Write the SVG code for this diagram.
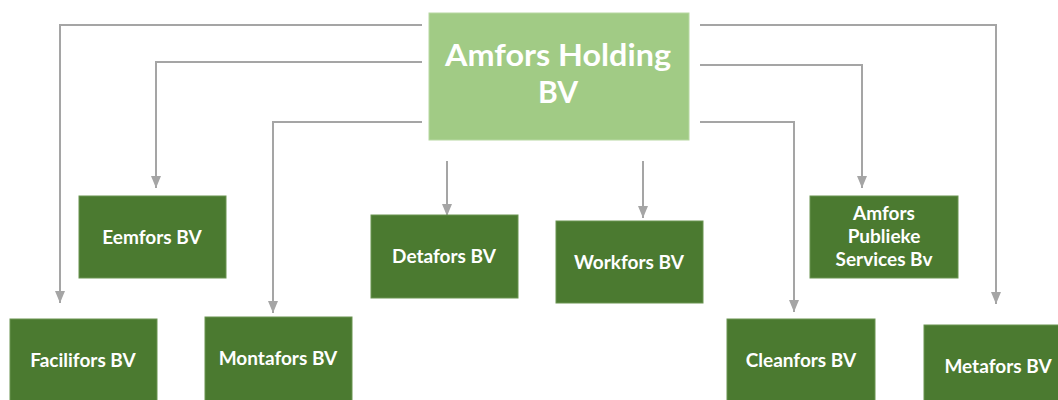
<svg xmlns="http://www.w3.org/2000/svg" width="1058" height="400" viewBox="0 0 1058 400">
<style>
.bg{fill:#ffffff}
.root rect{fill:#a1cb85;stroke:#b7d8a2;stroke-width:1}
.node rect{fill:#4b7a30;stroke:#6a9450;stroke-width:1}
text{font-family:Lato,"Liberation Sans",sans-serif;font-weight:bold;fill:#ffffff;text-anchor:middle}
.root text{font-size:30px}
.node text{font-size:19px}
.conn path{fill:none;stroke:#a5a5a5;stroke-width:2;marker-end:url(#arr)}
</style>
<defs>
<marker id="arr" markerUnits="userSpaceOnUse" markerWidth="12" markerHeight="12" viewBox="0 0 12 12" refX="12" refY="6" orient="auto">
<path d="M0,1 L12,6 L0,11 z" fill="#a5a5a5"/>
</marker>
</defs>
<rect class="bg" x="0" y="0" width="1058" height="400"/>
<g id="connectors" class="conn">
<path d="M422,25 H60 V303"/>
<path d="M422,62 H156 V188"/>
<path d="M422,122 H273 V313"/>
<path d="M447,161 V216"/>
<path d="M643,161 V218"/>
<path d="M700,65 H862 V188"/>
<path d="M700,122 H794 V312"/>
<path d="M700,25 H996 V304"/>
</g>
<g id="amfors-holding" class="root">
<rect x="429" y="13" width="260" height="127"/>
<text x="558" y="66" textLength="226" lengthAdjust="spacingAndGlyphs">Amfors Holding</text>
<text x="558" y="103">BV</text>
</g>
<g id="eemfors" class="node">
<rect x="79" y="196" width="147" height="82"/>
<text x="152" y="244">Eemfors BV</text>
</g>
<g id="detafors" class="node">
<rect x="371" y="215" width="147" height="83"/>
<text x="444" y="263">Detafors BV</text>
</g>
<g id="workfors" class="node">
<rect x="556" y="221" width="147" height="82"/>
<text x="629" y="269">Workfors BV</text>
</g>
<g id="amfors-publieke-services" class="node">
<rect x="810" y="196" width="148" height="82"/>
<text x="884" y="220">Amfors</text>
<text x="884" y="243">Publieke</text>
<text x="884" y="266">Services Bv</text>
</g>
<g id="facilifors" class="node">
<rect x="10" y="319" width="147" height="82"/>
<text x="83" y="367">Facilifors BV</text>
</g>
<g id="montafors" class="node">
<rect x="205" y="317" width="147" height="84"/>
<text x="278" y="365">Montafors BV</text>
</g>
<g id="cleanfors" class="node">
<rect x="727" y="319" width="148" height="82"/>
<text x="801" y="367">Cleanfors BV</text>
</g>
<g id="metafors" class="node">
<rect x="924" y="325" width="148" height="82"/>
<text x="998" y="373">Metafors BV</text>
</g>
</svg>
